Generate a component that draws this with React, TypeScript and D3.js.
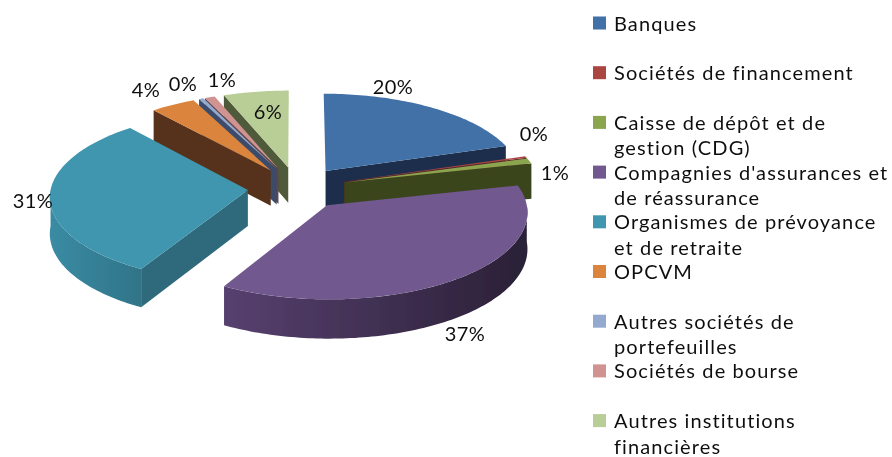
import React from "react";
import * as d3 from "d3";

const categories = [
  ["Banques"],
  ["Sociétés de financement"],
  ["Caisse de dépôt et de", "gestion (CDG)"],
  ["Compagnies d'assurances et", "de réassurance"],
  ["Organismes de prévoyance", "et de retraite"],
  ["OPCVM"],
  ["Autres sociétés de", "portefeuilles"],
  ["Sociétés de bourse"],
  ["Autres institutions", "financières"],
];
const shares = [20, 0.3, 1, 36.9, 30.7, 4, 0.4, 0.9, 5.8];
const topColors = ["#4271a8", "#ab4542", "#8ba54f", "#71588f", "#3f96ae", "#db843d", "#93a9cf", "#d19392", "#b9cd96"];
const faceColors = ["#1a2f4c", "#5a2422", "#3a451e", "#3a2a4c", "#2e6a7c", "#56331a", "#3d4c6b", "#5e4647", "#4f5a3a"];
const wallLeftColors = ["#1a2f4c", "#5a2422", "#3a451e", "#57406f", "#3a8ba3", "#56331a", "#3d4c6b", "#5e4647", "#4f5a3a"];
const wallRightColors = ["#1a2f4c", "#5a2422", "#3a451e", "#2a2036", "#307488", "#56331a", "#3d4c6b", "#5e4647", "#4f5a3a"];
// label anchor per slice, in page pixels
const labelAnchors: [number, number][] = [
  [393, 94], [534, 141], [555, 180], [465, 341], [33, 208], [146, 97], [183, 91], [222, 87], [268, 119],
];

const W = 892, H = 457;
const CX = 297, CY = 188, RX = 197, RY = 85, DEPTH = 36, PERSPECTIVE = 0.07, EXPLODE = 0.25;
const FONT = "Lato, 'Open Sans', sans-serif";

type P = [number, number];
const project = (X: number, Y: number, Z: number): P => {
  const s = 1 / (1 + PERSPECTIVE * Y);
  return [CX + X * RX * s, CY - Y * RY * s - Z * DEPTH * s];
};

const arcs = d3.pie<number>().sort(null).value((d) => d).startAngle(0).endAngle(2 * Math.PI)(shares);
const line = d3.line();
const color = d3.scaleOrdinal<number, string>().domain(d3.range(shares.length)).range(topColors);
const face = d3.scaleOrdinal<number, string>().domain(d3.range(shares.length)).range(faceColors);

const slices = arcs.map((a) => {
  const mid = (a.startAngle + a.endAngle) / 2;
  const ox = EXPLODE * Math.sin(mid), oy = EXPLODE * Math.cos(mid);
  const at = (t: number, z: number, r = 1) => project(ox + r * Math.sin(t), oy + r * Math.cos(t), z);
  const sample = (t0: number, t1: number, z: number) => {
    const n = Math.max(2, Math.ceil((t1 - t0) / 0.02));
    return d3.range(n + 1).map((i) => at(t0 + ((t1 - t0) * i) / n, z));
  };
  const apexTop = at(0, 0, 0), apexBot = at(0, -1, 0);
  const top = [apexTop, ...sample(a.startAngle, a.endAngle, 0)];
  const faces: P[][] = [];
  if (Math.sin(a.startAngle) < 0)
    faces.push([apexTop, at(a.startAngle, 0), at(a.startAngle, -1), apexBot]);
  if (Math.sin(a.endAngle) > 0)
    faces.push([apexTop, at(a.endAngle, 0), at(a.endAngle, -1), apexBot]);
  const w0 = Math.max(a.startAngle, Math.PI / 2), w1 = Math.min(a.endAngle, (3 * Math.PI) / 2);
  const wall = w1 > w0 ? [...sample(w0, w1, 0), ...sample(w0, w1, -1).reverse()] : null;
  return { index: a.index, mid, top, faces, wall };
});
const drawOrder = [...slices].sort((p, q) => Math.cos(q.mid) - Math.cos(p.mid));

const LEGEND_X = 593, LEGEND_TEXT_X = 614, LEGEND_START = 30.5, LEGEND_STEP = 49.7, LINE_GAP = 25.5;

export default function App() {
  return (
    <svg width={W} height={H} viewBox={`0 0 ${W} ${H}`} style={{ position: "absolute", left: 0, top: 0, display: "block", background: "#fff" }}>
      <defs>
        {slices.filter((s) => s.wall).map((s) => (
          <linearGradient key={s.index} id={`wall${s.index}`} x1="0" x2="1" y1="0" y2="0">
            <stop offset="0" stopColor={wallLeftColors[s.index]} />
            <stop offset="1" stopColor={wallRightColors[s.index]} />
          </linearGradient>
        ))}
        <filter id="soft" x="0" y="0" width="100%" height="100%" filterUnits="userSpaceOnUse" primitiveUnits="userSpaceOnUse">
          <feGaussianBlur stdDeviation="0.45" />
        </filter>
      </defs>
      <g filter="url(#soft)">
        <rect x={0} y={0} width={W} height={H} fill="#fff" />
        {drawOrder.map((s) => (
          <g key={s.index}>
            {s.faces.map((f, i) => (
              <path key={i} d={line(f)! + "Z"} fill={face(s.index)} />
            ))}
            {s.wall && <path d={line(s.wall)! + "Z"} fill={`url(#wall${s.index})`} />}
            <path d={line(s.top)! + "Z"} fill={color(s.index)} />
          </g>
        ))}
        {shares.map((v, i) => (
          <text key={i} x={labelAnchors[i][0]} y={labelAnchors[i][1]} textAnchor="middle" fontFamily={FONT} fontSize={20} letterSpacing={0.5} fill="#111">
            {Math.round(v)}%
          </text>
        ))}
        {categories.map((lines, i) => {
          const base = LEGEND_START + i * LEGEND_STEP;
          return (
            <g key={i}>
              <rect x={LEGEND_X} y={base - 14} width={13} height={13} fill={topColors[i]} />
              {lines.map((t, j) => (
                <text key={j} x={LEGEND_TEXT_X} y={base + j * LINE_GAP} fontFamily={FONT} fontSize={20} letterSpacing={1.1} fill="#111">
                  {t}
                </text>
              ))}
            </g>
          );
        })}
      </g>
    </svg>
  );
}
